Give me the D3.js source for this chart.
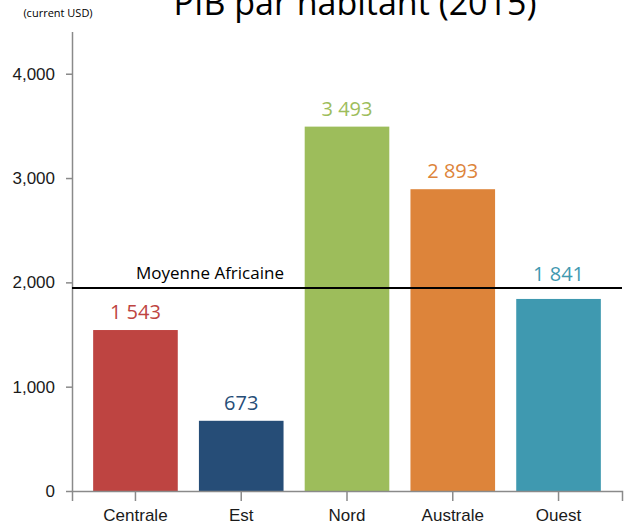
<!DOCTYPE html>
<html>
<head>
<meta charset="utf-8">
<script src="https://cdn.jsdelivr.net/npm/d3@7"></script>
<style>
  body { margin: 0; background: #fff; }
  svg { display: block; font-family: "Open Sans", sans-serif; }
  .axis path, .axis line { stroke: #8a8a8a; stroke-width: 1.5px; }
  .axis text { fill: #1a1a1a; }
</style>
</head>
<body>
<svg id="svg1"></svg>
<script>
var regions = ["Centrale", "Est", "Nord", "Australe", "Ouest"];
var gdpPerCapita = [1543, 673, 3493, 2893, 1841];
var barColors = ["#be4441", "#264d77", "#9dbd5b", "#dd843a", "#3f99b0"];
var yTicks = [0, 1000, 2000, 3000, 4000];
var africanAverage = 1945;

var margin = {top: 32, right: 8, bottom: 39, left: 72},
    width = 630 - margin.left - margin.right,
    height = 530 - margin.top - margin.bottom;

var svg = d3.select("#svg1")
    .attr("width", width + margin.left + margin.right)
    .attr("height", height + margin.top + margin.bottom);

var g = svg.append("g")
    .attr("transform", "translate(" + margin.left + "," + margin.top + ")");

var x = d3.scaleBand()
    .domain(regions)
    .range([0, width])
    .paddingInner(0.2)
    .paddingOuter(0.2);

var y = d3.scaleLinear()
    .domain([0, 4400])
    .range([height, 0]);

var data = regions.map(function(r, i) {
  return {region: r, value: gdpPerCapita[i], color: barColors[i]};
});

var fmt = function(v) { return d3.format(",")(v).replace(",", " "); };

g.selectAll(".bar")
    .data(data)
    .enter().append("rect")
    .attr("class", "bar")
    .attr("x", function(d) { return x(d.region); })
    .attr("width", x.bandwidth())
    .attr("y", function(d) { return y(d.value); })
    .attr("height", function(d) { return height - y(d.value); })
    .attr("fill", function(d) { return d.color; });

// value labels, pushed above the average line when they would cross it
var avgY = y(africanAverage);
g.selectAll(".val")
    .data(data)
    .enter().append("text")
    .attr("class", "val")
    .attr("x", function(d) { return x(d.region) + x.bandwidth() / 2; })
    .attr("y", function(d) {
      var ly = y(d.value) - 11;
      if (ly - 16 < avgY && ly + 5 > avgY) ly = avgY - 7;
      return ly;
    })
    .attr("text-anchor", "middle")
    .style("font-size", "20px")
    .attr("fill", function(d) { return d.color; })
    .text(function(d) { return fmt(d.value); });

// y axis
var yAxis = g.append("g")
    .attr("class", "axis")
    .style("font-size", "17px")
    .call(d3.axisLeft(y).tickValues(yTicks).tickFormat(d3.format(",")).tickSize(6).tickSizeOuter(0).tickPadding(11));
yAxis.select(".domain").attr("d", "M0.5," + y(4400) + "V" + height);

// x axis
g.append("g")
    .attr("class", "axis")
    .attr("transform", "translate(0," + height + ")")
    .style("font-size", "17px")
    .call(d3.axisBottom(x).tickSize(10).tickSizeOuter(10).tickPadding(8));

// average line
g.append("line")
    .attr("x1", 0)
    .attr("x2", width)
    .attr("y1", avgY)
    .attr("y2", avgY)
    .attr("stroke", "#000")
    .attr("stroke-width", 2);

g.append("text")
    .attr("x", 64)
    .attr("y", avgY - 9)
    .style("font-size", "17px")
    .attr("fill", "#000")
    .text("Moyenne Africaine");

// title and unit
svg.append("text")
    .attr("x", 355)
    .attr("y", 15)
    .attr("text-anchor", "middle")
    .style("font-size", "34px")
    .attr("fill", "#000")
    .text("PIB par habitant (2015)");

svg.append("text")
    .attr("x", 58)
    .attr("y", 17)
    .attr("text-anchor", "middle")
    .style("font-size", "11px")
    .attr("fill", "#000")
    .text("(current USD)");
</script>
</body>
</html>
